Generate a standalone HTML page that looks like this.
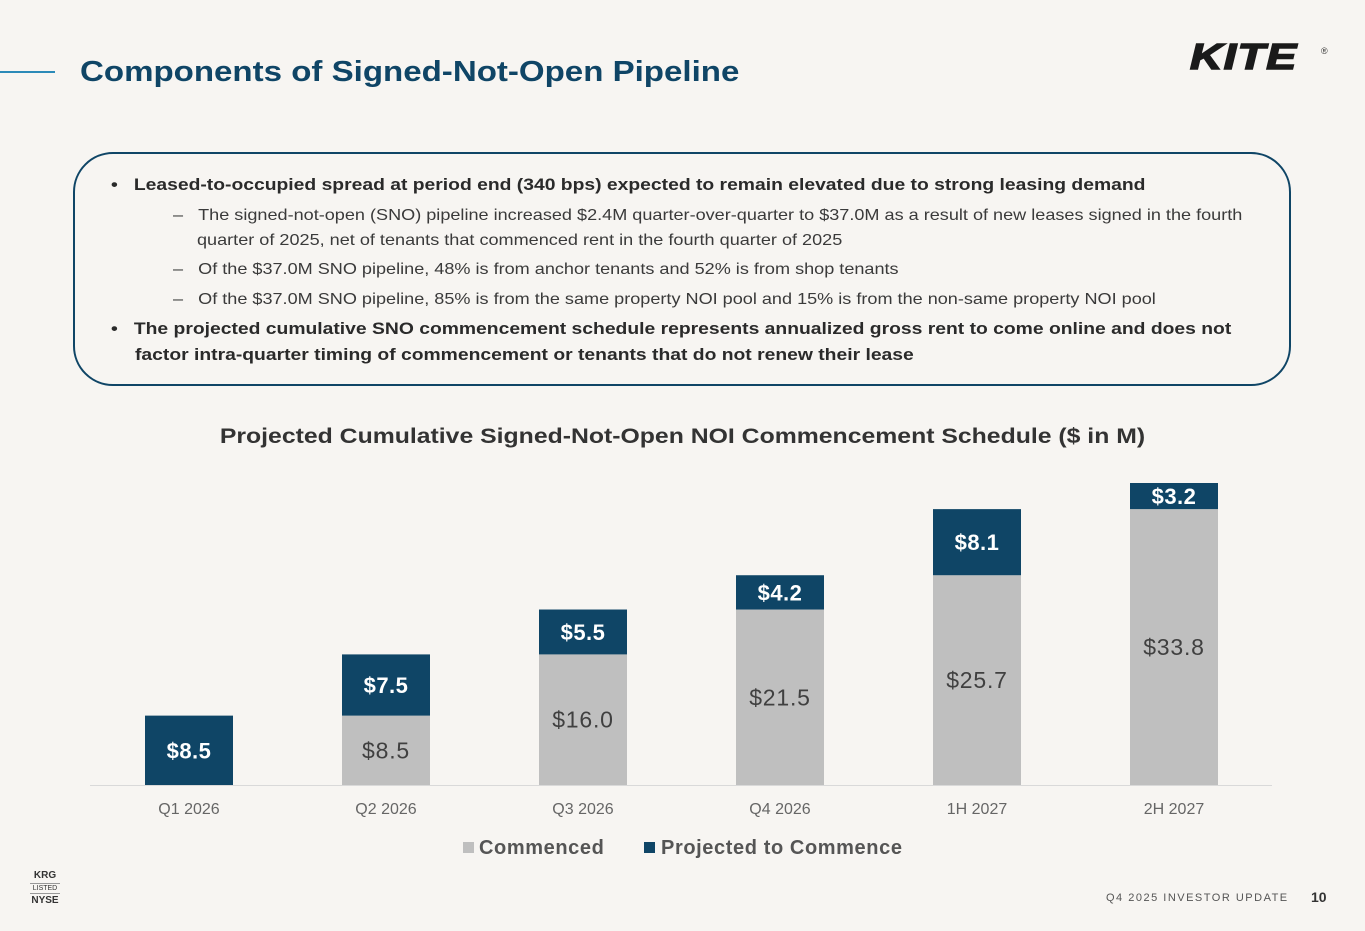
<!DOCTYPE html>
<html><head><meta charset="utf-8"><style>
body{margin:0;width:1365px;height:931px;background:#f7f5f2;font-family:"Liberation Sans",sans-serif;position:relative;overflow:hidden}
.abs{position:absolute;white-space:nowrap}
#box{left:73px;top:152px;width:1214px;height:230px;border:2px solid #0f4566;border-radius:40px}
.b{font-weight:bold;color:#2a2a2a;font-size:16.5px;transform-origin:left;transform:scaleX(1.17)}
.s{color:#3a3a3a;font-size:16px;transform-origin:left;transform:scaleX(1.13)}
</style></head><body>
<div class="abs" style="left:0;top:71px;width:55px;height:2px;background:#2b8ab8"></div>
<div class="abs" style="left:80px;top:56px;font-size:29px;font-weight:bold;color:#0f4566;transform-origin:left;transform:scaleX(1.14)">Components of Signed-Not-Open Pipeline</div>
<div class="abs" style="left:1190px;top:36px;font-size:36px;font-weight:900;font-style:italic;color:#1a1a1a;letter-spacing:1px;transform:scaleX(1.25);transform-origin:left;-webkit-text-stroke:1.5px #1a1a1a">KITE</div>
<div class="abs" style="left:1321px;top:46px;font-size:9px;color:#333">®</div>
<div id="box" class="abs"></div>
<div class="abs b" style="left:111px;top:176px">•&nbsp;&nbsp;&nbsp;Leased-to-occupied spread at period end (340 bps) expected to remain elevated due to strong leasing demand</div>
<div class="abs s" style="left:173px;top:207px">–&nbsp;&nbsp;&nbsp;The signed-not-open (SNO) pipeline increased $2.4M quarter-over-quarter to $37.0M as a result of new leases signed in the fourth</div>
<div class="abs s" style="left:197px;top:232px">quarter of 2025, net of tenants that commenced rent in the fourth quarter of 2025</div>
<div class="abs s" style="left:173px;top:261px">–&nbsp;&nbsp;&nbsp;Of the $37.0M SNO pipeline, 48% is from anchor tenants and 52% is from shop tenants</div>
<div class="abs s" style="left:173px;top:291px">–&nbsp;&nbsp;&nbsp;Of the $37.0M SNO pipeline, 85% is from the same property NOI pool and 15% is from the non-same property NOI pool</div>
<div class="abs b" style="left:111px;top:320px">•&nbsp;&nbsp;&nbsp;The projected cumulative SNO commencement schedule represents annualized gross rent to come online and does not</div>
<div class="abs b" style="left:135px;top:346px">factor intra-quarter timing of commencement or tenants that do not renew their lease</div>
<div class="abs" style="left:0;width:1365px;text-align:center;top:425px;font-size:21px;font-weight:bold;color:#333;transform:scaleX(1.18)">Projected Cumulative Signed-Not-Open NOI Commencement Schedule ($ in M)</div>
<svg class="abs" style="left:0;top:0" width="1365" height="931" id="chart"></svg>
<div class="abs" style="left:30px;top:871px;width:30px;text-align:center;color:#333;line-height:1">
<div style="font-size:10px;font-weight:bold">KRG</div><div style="font-size:7px;border-top:1px solid #999;border-bottom:1px solid #999;margin:2px 0;padding:1px 0">LISTED</div><div style="font-size:10px;font-weight:bold">NYSE</div></div>
<div class="abs" style="left:1106px;top:892px;font-size:11px;letter-spacing:1.5px;color:#555">Q4 2025 INVESTOR UPDATE</div>
<div class="abs" style="left:1311px;top:889px;font-size:14px;font-weight:bold;color:#333">10</div>
<script>
const categories=["Q1 2026","Q2 2026","Q3 2026","Q4 2026","1H 2027","2H 2027"];
const commenced=[0,8.5,16.0,21.5,25.7,33.8];
const projected=[8.5,7.5,5.5,4.2,8.1,3.2];
const svg=document.getElementById('chart');const NS='http://www.w3.org/2000/svg';
const base=785,ppu=302/37;
const y=v=>base-v*ppu;const x=i=>189+i*197;
function mk(t,a){const e=document.createElementNS(NS,t);for(const k in a)e.setAttribute(k,a[k]);svg.appendChild(e);return e;}
const ax=mk('line',{x1:90,x2:1272,y1:base+0.5,y2:base+0.5,stroke:'#d9d9d9','stroke-width':1});


categories.forEach((c,i)=>{
 const c0=commenced[i],p=projected[i];
 if(c0>0){const r=mk('rect',{x:x(i)-44,y:y(c0),width:88,height:base-y(c0),fill:'#bfbfbf'});
 
 
 const t=mk('text',{x:x(i),y:(y(c0)+base)/2+8,'text-anchor':'middle','font-size':23,'letter-spacing':0.8,fill:'#404040'});t.textContent='$'+c0.toFixed(1);
 
 }
 const r2=mk('rect',{x:x(i)-44,y:y(c0+p),width:88,height:y(c0)-y(c0+p),fill:'#0f4566'});
 
 
 const t2=mk('text',{x:x(i),y:(y(c0)+y(c0+p))/2+8,'text-anchor':'middle','font-size':22,'font-weight':'bold','letter-spacing':0.5,fill:'#fff'});t2.textContent='$'+p.toFixed(1);
 
 
 const tl=mk('text',{x:x(i),y:814,'text-anchor':'middle','font-size':16,fill:'#666'});tl.textContent=c;
 
 
});
const l1=mk('rect',{x:463,y:842,width:11,height:11,fill:'#bfbfbf'});


const lt1=mk('text',{x:479,y:854,'font-size':20,'font-weight':'bold','letter-spacing':0.6,fill:'#555'});lt1.textContent='Commenced';


const l2=mk('rect',{x:644,y:842,width:11,height:11,fill:'#0f4566'});


const lt2=mk('text',{x:661,y:854,'font-size':20,'font-weight':'bold','letter-spacing':0.6,fill:'#555'});lt2.textContent='Projected to Commence';


</script>
</body></html>
